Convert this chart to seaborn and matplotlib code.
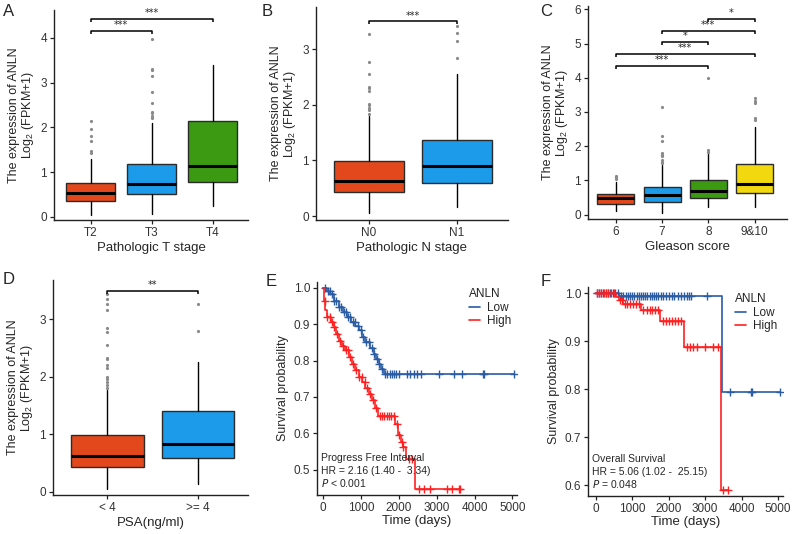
import numpy as np
import pandas as pd
import matplotlib
matplotlib.use("Agg")
import matplotlib.pyplot as plt
import seaborn as sns

# ---- box plot data ----
t_stage = ["T2", "T3", "T4"]
t_q1 = [0.36, 0.50, 0.77]
t_med = [0.53, 0.73, 1.13]
t_q3 = [0.76, 1.17, 2.13]
t_lo = [0.05, 0.07, 0.25]
t_hi = [1.30, 2.10, 3.40]
t_out = [[1.42, 1.47, 1.69, 1.81, 1.97, 2.15],
         [2.20, 2.25, 2.32, 2.35, 2.55, 2.78, 3.15, 3.27, 3.30, 3.97],
         []]

n_stage = ["N0", "N1"]
n_q1 = [0.44, 0.59]
n_med = [0.63, 0.90]
n_q3 = [0.99, 1.37]
n_lo = [0.05, 0.17]
n_hi = [1.80, 2.56]
n_out = [[1.83, 1.90, 1.95, 2.00, 2.02, 2.25, 2.30, 2.32, 2.55, 2.78, 3.27],
         [2.85, 3.15, 3.30, 3.42]]

gleason = ["6", "7", "8", "9&10"]
g_q1 = [0.32, 0.37, 0.48, 0.62]
g_med = [0.49, 0.58, 0.69, 0.90]
g_q3 = [0.60, 0.80, 1.01, 1.49]
g_lo = [0.10, 0.05, 0.22, 0.22]
g_hi = [0.95, 1.44, 1.80, 2.56]
g_out = [[1.05, 1.10, 1.13],
         [1.50, 1.55, 1.60, 1.70, 1.75, 1.80, 2.15, 2.30, 3.15],
         [1.83, 1.90, 3.98],
         [2.78, 2.83, 3.27, 3.33, 3.42]]

psa = ["< 4", ">= 4"]
p_q1 = [0.435, 0.59]
p_med = [0.62, 0.83]
p_q3 = [0.99, 1.40]
p_lo = [0.04, 0.13]
p_hi = [1.76, 2.25]
p_out = [[1.80, 1.85, 1.90, 1.95, 2.00, 2.15, 2.20, 2.30, 2.32, 2.55, 2.78,
          2.85, 3.15, 3.27, 3.35, 3.43],
         [2.80, 3.27]]

# ---- Kaplan-Meier data (step times / survival, censor times) ----
pfi_low_t = [0, 100, 193, 300, 412, 520, 632, 740, 852, 940, 1030, 1115,
             1230, 1335, 1400, 1466, 1530, 1598]
pfi_low_s = [1.0, 0.992, 0.984, 0.965, 0.947, 0.933, 0.919, 0.907, 0.896,
             0.883, 0.866, 0.85, 0.835, 0.819, 0.805, 0.791, 0.778, 0.763]
pfi_low_end = 5044
pfi_low_cens = [60, 120, 180, 240, 300, 350, 420, 480, 540, 600, 660, 720,
                780, 850, 920, 990, 1060, 1130, 1200, 1280, 1350, 1420, 1480,
                1550, 1643, 1700, 1757, 1820, 1881, 1933, 1995, 2216, 2284,
                2390, 2480, 2585, 3050, 3445, 3665, 4234, 4250, 5044]

pfi_high_t = [0, 17, 60, 105, 200, 281, 350, 412, 500, 588, 680, 764, 850,
              940, 1040, 1120, 1203, 1290, 1370, 1450, 1897, 1986, 2050,
              2100, 2180, 2433]
pfi_high_s = [1.0, 0.965, 0.94, 0.919, 0.905, 0.892, 0.872, 0.855, 0.84,
              0.828, 0.81, 0.791, 0.775, 0.754, 0.74, 0.725, 0.709, 0.69,
              0.67, 0.647, 0.626, 0.594, 0.575, 0.562, 0.53, 0.447]
pfi_high_end = 3620
pfi_high_cens = [40, 110, 170, 230, 300, 370, 440, 520, 600, 660, 720, 800,
                 880, 960, 1030, 1100, 1170, 1240, 1320, 1400, 1500, 1560,
                 1620, 1680, 1740, 1800, 1860, 1950, 2010, 2080, 2120, 2280,
                 2350, 2521, 2653, 2811, 3269, 3401, 3576, 3620]

os_low_t = [0, 630, 3460]
os_low_s = [1.0, 0.994, 0.795]
os_low_end = 5050
os_low_cens = [30, 90, 150, 210, 270, 330, 400, 470, 540, 600, 700, 760,
               820, 880, 940, 1000, 1060, 1120, 1180, 1240, 1300, 1360, 1420,
               1480, 1540, 1600, 1660, 1720, 1780, 1850, 1920, 2000, 2080,
               2160, 2250, 2330, 2420, 2500, 2560, 2620, 3053, 3680, 4270,
               4290, 5050]

os_high_t = [0, 570, 650, 750, 1250, 1758, 2420, 3440]
os_high_s = [1.0, 0.992, 0.985, 0.978, 0.964, 0.942, 0.887, 0.59]
os_high_end = 3640
os_high_cens = [30, 80, 150, 220, 280, 350, 420, 490, 680, 720, 800, 870,
                950, 1020, 1100, 1180, 1300, 1400, 1480, 1550, 1620, 1700,
                1850, 1930, 2010, 2090, 2170, 2250, 2330, 2492, 2582, 2674,
                2766, 2995, 3223, 3343, 3492, 3629]

box_colors = ["#E2481B", "#1C9BEA", "#3B9A12", "#F1D80F"]
low_color = "#2A5BA5"
high_color = "#FF2121"

sns.set_style("ticks")
plt.rcParams["font.family"] = ["Liberation Sans", "DejaVu Sans"]
plt.rcParams["mathtext.default"] = "regular"
plt.rcParams["axes.edgecolor"] = "#222222"
plt.rcParams["xtick.color"] = "#222222"
plt.rcParams["ytick.color"] = "#222222"

W, H = 793, 534
fig = plt.figure(figsize=(W / 100, H / 100), dpi=100)


def px_axes(left, right, top, bottom):
    return fig.add_axes([left / W, 1 - bottom / H, (right - left) / W,
                         (bottom - top) / H])


def style_axes(ax):
    sns.despine(ax=ax)
    for s in ("left", "bottom"):
        ax.spines[s].set_linewidth(1.0)
    ax.tick_params(direction="out", length=3, width=0.9, labelsize=8.5,
                   labelcolor="#333333", pad=2)


def box_panel(ax, cats, q1, med, q3, lo, hi, out, xlabel, ylim, yticks):
    stats = []
    for i, c in enumerate(cats):
        stats.append(dict(label=c, q1=q1[i], med=med[i], q3=q3[i],
                          whislo=lo[i], whishi=hi[i], fliers=out[i]))
    bp = ax.bxp(stats, positions=np.arange(len(cats)), widths=0.8,
                patch_artist=True, showcaps=False,
                boxprops=dict(edgecolor="#2b2b2b", linewidth=1.0),
                medianprops=dict(color="black", linewidth=2.2),
                whiskerprops=dict(color="black", linewidth=1.0),
                flierprops=dict(marker="o", markersize=2.3,
                                markerfacecolor="#8a8a8a",
                                markeredgecolor="none"))
    for patch, col in zip(bp["boxes"], box_colors):
        patch.set_facecolor(col)
    ax.set_xlim(-0.6, len(cats) - 0.42)
    ax.set_ylim(*ylim)
    ax.set_yticks(yticks)
    ax.set_xticks(np.arange(len(cats)))
    ax.set_xticklabels(cats)
    ax.set_xlabel(xlabel, fontsize=9.5, labelpad=2)
    ax.set_ylabel("The expression of ANLN\nLog$_2$ (FPKM+1)", fontsize=9,
                  linespacing=1.0, labelpad=3)
    style_axes(ax)


def bracket(ax, x1, x2, y, txt, drop):
    ax.plot([x1, x1, x2, x2], [y - drop, y, y, y - drop], color="black",
            lw=1.1, solid_capstyle="butt")
    ax.text((x1 + x2) / 2, y + drop * 0.3, txt, ha="center", va="bottom",
            fontsize=7, family="DejaVu Sans")


def step_at(t, s, c):
    idx = np.searchsorted(np.array(t), np.array(c), side="right") - 1
    return np.array(s)[idx]


def km_panel(ax, curves, title, hr, ptxt, xlim, ylim, yticks):
    for t, s, end, cens, col, lab in curves:
        df = pd.DataFrame({"time": t + [end], "surv": s + [s[-1]]})
        sns.lineplot(data=df, x="time", y="surv", drawstyle="steps-post",
                     estimator=None, sort=False, color=col, lw=1.2,
                     label=lab, ax=ax)
        sns.scatterplot(x=cens, y=step_at(t, s, cens), marker="+", s=28,
                        color=col, linewidth=1.0, legend=False, ax=ax)
    ax.set_xlim(*xlim)
    ax.set_ylim(*ylim)
    ax.set_yticks(yticks)
    ax.set_yticklabels([f"{v:.1f}" for v in yticks])
    ax.set_xticks([0, 1000, 2000, 3000, 4000, 5000])
    ax.set_xlabel("Time (days)", fontsize=9.5, labelpad=1)
    ax.set_ylabel("Survival probability", fontsize=9, labelpad=3)
    leg = ax.legend(title="ANLN", frameon=False, loc="upper right",
                    fontsize=8.5, title_fontsize=8.5, handlelength=0.9,
                    handletextpad=0.6, labelspacing=0.15,
                    borderaxespad=0.1, alignment="left")
    leg.get_title().set_color("#222222")
    ax.text(0.02, 0.175, title, transform=ax.transAxes, fontsize=7.5,
            va="center")
    ax.text(0.02, 0.115, hr, transform=ax.transAxes, fontsize=7.5,
            va="center")
    ax.text(0.02, 0.058, ptxt, transform=ax.transAxes, fontsize=7.5,
            va="center")
    style_axes(ax)


# A
axA = px_axes(54, 248, 10, 220)
box_panel(axA, t_stage, t_q1, t_med, t_q3, t_lo, t_hi, t_out,
          "Pathologic T stage", (-0.07, 4.62), [0, 1, 2, 3, 4])
bracket(axA, 0, 1, 4.15, "***", 0.06)
bracket(axA, 0, 2, 4.42, "***", 0.06)

# B
axB = px_axes(316, 508, 7, 220)
box_panel(axB, n_stage, n_q1, n_med, n_q3, n_lo, n_hi, n_out,
          "Pathologic N stage", (-0.07, 3.76), [0, 1, 2, 3])
bracket(axB, 0, 1, 3.50, "***", 0.05)

# C
axC = px_axes(588, 787, 6, 219)
box_panel(axC, gleason, g_q1, g_med, g_q3, g_lo, g_hi, g_out,
          "Gleason score", (-0.13, 6.1), [0, 1, 2, 3, 4, 5, 6])
axC.set_xlim(-0.6, 3.7)
bracket(axC, 0, 2, 4.35, "***", 0.08)
bracket(axC, 0, 3, 4.69, "***", 0.08)
bracket(axC, 1, 2, 5.04, "*", 0.08)
bracket(axC, 1, 3, 5.37, "***", 0.08)
bracket(axC, 2, 3, 5.72, "*", 0.08)

# D
axD = px_axes(53, 248, 280, 495)
box_panel(axD, psa, p_q1, p_med, p_q3, p_lo, p_hi, p_out,
          "PSA(ng/ml)", (-0.06, 3.68), [0, 1, 2, 3])
axD.set_xlim(-0.6, 1.55)
bracket(axD, 0, 1, 3.49, "**", 0.05)

# E
axE = px_axes(317, 517, 282, 495)
km_panel(axE,
         [(pfi_low_t, pfi_low_s, pfi_low_end, pfi_low_cens, low_color, "Low"),
          (pfi_high_t, pfi_high_s, pfi_high_end, pfi_high_cens, high_color,
           "High")],
         "Progress Free Interval", "HR = 2.16 (1.40 -  3.34)",
         "$\\it{P}$ < 0.001", (-160, 5120), (0.43, 1.016),
         [0.5, 0.6, 0.7, 0.8, 0.9, 1.0])

# F
axF = px_axes(588, 783, 287, 496)
km_panel(axF,
         [(os_low_t, os_low_s, os_low_end, os_low_cens, low_color, "Low"),
          (os_high_t, os_high_s, os_high_end, os_high_cens, high_color,
           "High")],
         "Overall Survival", "HR = 5.06 (1.02 -  25.15)",
         "$\\it{P}$ = 0.048", (-210, 5137), (0.578, 1.0125),
         [0.6, 0.7, 0.8, 0.9, 1.0])

for lab, x, y in [("A", 3, 4), ("B", 262, 4), ("C", 540, 4),
                  ("D", 3, 272), ("E", 266, 274), ("F", 541, 274)]:
    fig.text(x / W, 1 - y / H, lab, fontsize=12, va="top", ha="left")

fig.savefig("out.png", dpi=100)
